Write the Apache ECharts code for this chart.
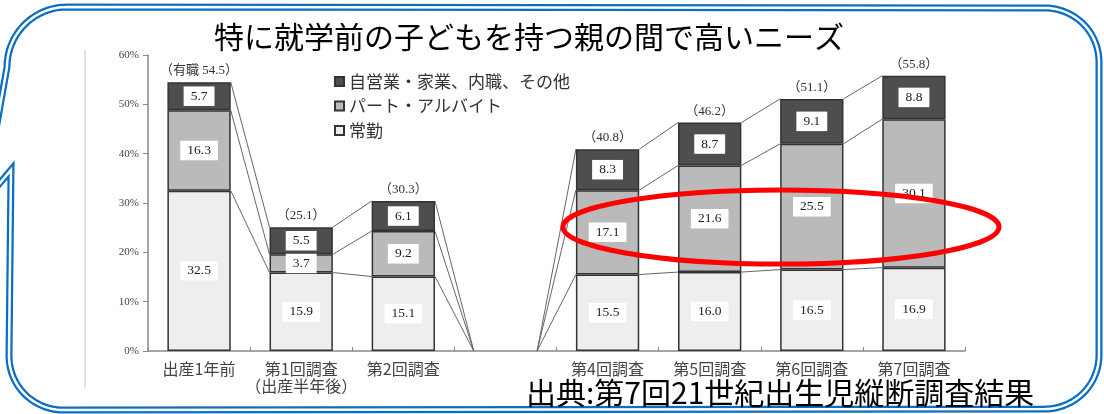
<!DOCTYPE html>
<html><head><meta charset="utf-8">
<script src="https://cdn.jsdelivr.net/npm/echarts@6/dist/echarts.min.js"></script>
<style>html,body{margin:0;padding:0;background:#fff}#c{width:1104px;height:414px}</style>
</head><body><div id="c"></div>
<script>
// ---- data ----
const categories = ['出産1年前', '第1回調査\n（出産半年後）', '第2回調査', '', '第4回調査', '第5回調査', '第6回調査', '第7回調査'];
const seriesNames = ['常勤', 'パート・アルバイト', '自営業・家業、内職、その他'];
const fullTime = [32.5, 15.9, 15.1, null, 15.5, 16.0, 16.5, 16.9];
const partTime = [16.3, 3.7, 9.2, null, 17.1, 21.6, 25.5, 30.1];
const selfEmployed = [5.7, 5.5, 6.1, null, 8.3, 8.7, 9.1, 8.8];
const totalLabels = ['（有職 54.5）', '（25.1）', '（30.3）', '', '（40.8）', '（46.2）', '（51.1）', '（55.8）'];
const yMin = 0, yMax = 60, yStep = 10;
const titleText = '特に就学前の子どもを持つ親の間で高いニーズ';
const sourceText = '出典:第7回21世紀出生児縦断調査結果';

// ---- styles ----
const SERIF = "'Liberation Serif','DejaVu Serif','Noto Sans CJK JP',serif";
const JP = "'Noto Sans CJK JP','Noto Sans',sans-serif";
const colors = ['#eeeeee', '#bababa', '#4e4e4e'];
const BAR_RATIO = 0.62;

const layers = [fullTime, partTime, selfEmployed];
const cum = [];
(function () {
  let run = categories.map(() => 0);
  layers.forEach(arr => {
    run = run.map((v, i) => v + (arr[i] == null ? 0 : arr[i]));
    cum.push(run.slice());
  });
})();

const chart = echarts.init(document.getElementById('c'), null, { renderer: 'canvas' });

const valueLabel = {
  show: true, position: 'inside',
  formatter: p => (p.value == null ? '' : Number(p.value).toFixed(1)),
  backgroundColor: '#fff', padding: [3, 7],
  fontFamily: SERIF, fontSize: 13.5, color: '#222'
};

const barSeries = layers.map((arr, k) => ({
  name: seriesNames[k], type: 'bar', stack: 'all',
  barWidth: (BAR_RATIO * 100) + '%',
  data: arr.map(v => (v == null ? '-' : v)),
  itemStyle: { color: colors[k], borderColor: '#333', borderWidth: 1.5 },
  label: valueLabel,
  emphasis: { disabled: true }, z: 3
}));

barSeries.push({
  name: 'total', type: 'bar', stack: 'all',
  barWidth: (BAR_RATIO * 100) + '%',
  data: totalLabels.map(t => (t ? 0 : '-')),
  itemStyle: { color: 'rgba(0,0,0,0)', borderWidth: 0 },
  label: {
    show: true, position: 'top', distance: 5,
    formatter: p => totalLabels[p.dataIndex],
    fontFamily: SERIF, fontSize: 13, color: '#333'
  },
  emphasis: { disabled: true }, z: 3
});

barSeries.push({
  name: 'lines', type: 'custom', silent: true, z: 2,
  data: categories.slice(0, -1).map((c, i) => [i, 0]),
  encode: { x: 0, y: 1 },
  renderItem: function (params, api) {
    const i = api.value(0);
    const half = api.size([1, 0])[0] * BAR_RATIO / 2;
    const children = [];
    for (let k = 0; k < cum.length; k++) {
      const a = api.coord([i, cum[k][i]]);
      const b = api.coord([i + 1, cum[k][i + 1]]);
      children.push({
        type: 'line',
        shape: { x1: a[0] + half, y1: a[1], x2: b[0] - half, y2: b[1] },
        style: { stroke: '#666', lineWidth: 1 }
      });
    }
    return { type: 'group', children };
  }
});

// frame outline (decoration)
function arcPts(cx, cy, r, a0, a1, n) {
  const p = [];
  for (let j = 0; j <= n; j++) {
    const a = a0 + (a1 - a0) * j / n;
    p.push([cx + r * Math.cos(a), cy + r * Math.sin(a)]);
  }
  return p;
}
const PI = Math.PI;
const framePts = [].concat(
  arcPts(67, 67, 60, PI, 1.5 * PI, 24),
  arcPts(1045, 62, 54, 1.5 * PI, 2 * PI, 24),
  arcPts(1045, 355, 54, 0, 0.5 * PI, 24),
  arcPts(63, 356, 54, 0.5 * PI, PI, 24),
  [[11, 170], [-17, 203]]
);

const option = {
  backgroundColor: '#fff',
  animation: false,
  grid: { left: 148, top: 55, width: 817, height: 296, containLabel: false },
  legend: {
    orient: 'vertical', left: 329, top: 68,
    itemWidth: 9, itemHeight: 9, itemGap: 7.5,
    icon: 'rect',
    data: seriesNames.slice().reverse(),
    textStyle: { fontFamily: JP, fontSize: 17, color: '#333', lineHeight: 16 },
    selectedMode: false
  },
  xAxis: {
    type: 'category', data: categories,
    axisLine: { lineStyle: { color: '#888', width: 1.5 } },
    axisTick: { show: true, inside: true, length: 4, lineStyle: { color: '#888' } },
    axisLabel: { interval: 0, margin: 9, fontFamily: JP, fontSize: 16, color: '#444', lineHeight: 17 }
  },
  yAxis: {
    type: 'value', min: yMin, max: yMax, interval: yStep,
    axisLine: { show: true, lineStyle: { color: '#888', width: 1.5 } },
    axisTick: { show: true, length: 5, lineStyle: { color: '#888' } },
    splitLine: { show: false },
    axisLabel: { formatter: '{value}%', fontFamily: SERIF, fontSize: 11, color: '#444', margin: 9 }
  },
  series: barSeries,
  graphic: [
    { type: 'line', shape: { x1: 85, y1: 50, x2: 85, y2: 388 }, style: { stroke: '#c4c4c4', lineWidth: 1 }, z: 1 },
    { type: 'polygon', shape: { points: framePts }, style: { fill: null, stroke: '#0a6fc2', lineWidth: 7 }, z: 10 },
    { type: 'polygon', shape: { points: framePts }, style: { fill: null, stroke: '#fff', lineWidth: 2.5 }, z: 11 },
    { type: 'text', x: 529, y: 37, style: { text: titleText, fontFamily: JP, fontSize: 30, fontWeight: 'normal', fill: '#000', align: 'center', verticalAlign: 'middle' }, z: 12 },
    { type: 'text', x: 526, y: 393, style: { text: sourceText, fontFamily: JP, fontSize: 30, fontWeight: 'normal', fill: '#000', align: 'left', verticalAlign: 'middle' }, z: 12 },
    { type: 'ellipse', shape: { cx: 781, cy: 227, rx: 218, ry: 37 }, style: { fill: null, stroke: '#f00', lineWidth: 5 }, z: 12 }
  ]
};
chart.setOption(option);
</script>
</body></html>
